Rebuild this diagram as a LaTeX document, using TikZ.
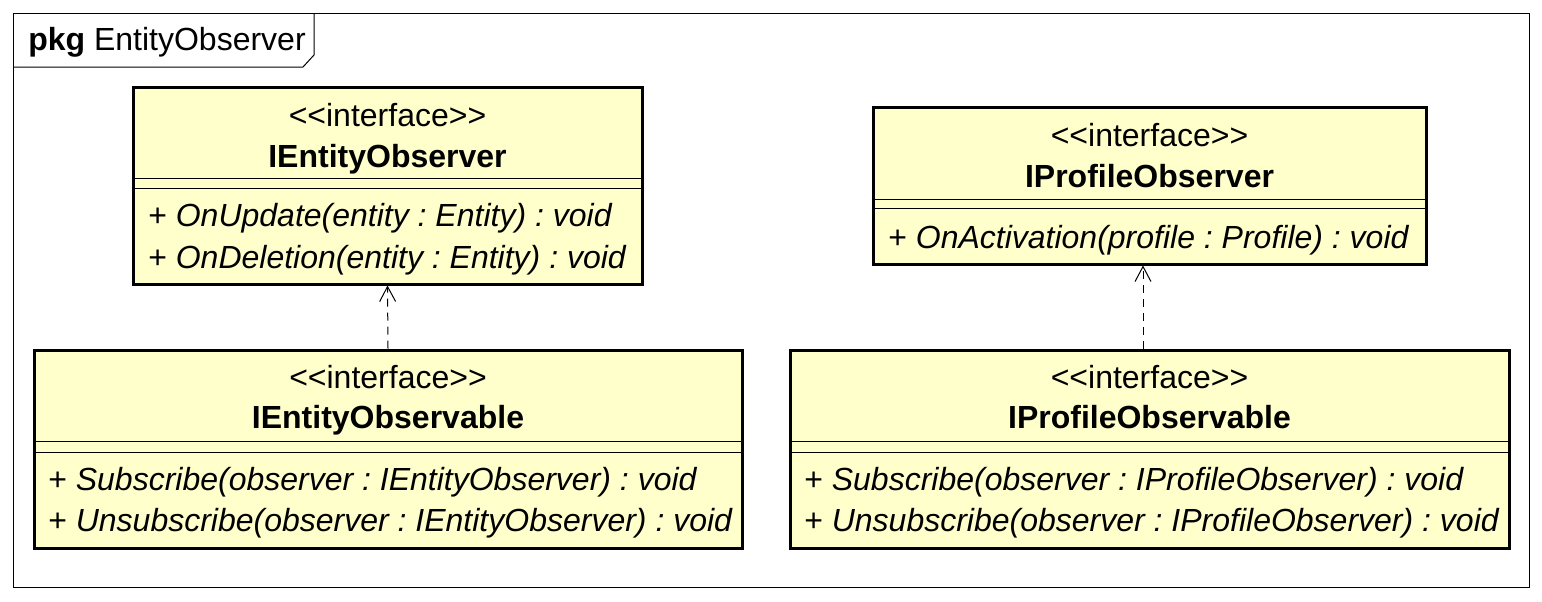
\documentclass[tikz,border=0pt]{standalone}
\usepackage{fontspec}
\setmainfont{Liberation Sans}[Ligatures=TeXOff]
\usetikzlibrary{arrows.meta}
\definecolor{UMLyellow}{RGB}{255,255,204}
\newcommand{\umlfont}{\fontsize{24}{29}\selectfont\frenchspacing}

\tikzset{
  ifacebox/.style={draw=black, line width=2.25pt, fill=UMLyellow, inner sep=0pt},
  stereo/.style={anchor=base, inner sep=0pt, font=\umlfont},
  ifacename/.style={anchor=base, inner sep=0pt, font=\umlfont\bfseries},
  opline/.style={anchor=base west, inner sep=0pt, font=\umlfont},
  compline/.style={line width=0.75pt},
  realize/.style={line width=0.75pt, dash pattern=on 6pt off 4.5pt,
    -{Straight Barb[length=11.25pt, width=12pt, line width=0.75pt]}}
}

\begin{document}
\begin{tikzpicture}[x=0.75pt, y=-0.75pt]
    \useasboundingbox (0,0) rectangle (1542,601);

    % Draw the package frame and its tab
    \draw[line width=0.75pt] (13,13) rectangle (1529,587);
    \draw[line width=0.75pt] (13,67) -- (303,67) -- (314,55) -- (314,13);
    \node[opline] (pkg) at (28,50) {\textbf{pkg} EntityObserver};

    % Draw the four interface boxes
    \node[ifacebox, minimum width=381.75pt, minimum height=147.75pt] (entobs) at (387.5,185.5) {};
    \node[ifacebox, minimum width=531pt, minimum height=148.5pt] (entobsable) at (388,449) {};
    \node[ifacebox, minimum width=414.75pt, minimum height=117.75pt] (profobs) at (1149.5,185.5) {};
    \node[ifacebox, minimum width=539.25pt, minimum height=148.5pt] (profobsable) at (1149.5,449) {};

    % Add the compartment lines
    \draw[compline] (entobs.west |- 0,178) -- (entobs.east |- 0,178);
    \draw[compline] (entobs.west |- 0,188) -- (entobs.east |- 0,188);
    \draw[compline] (entobsable.west |- 0,441) -- (entobsable.east |- 0,441);
    \draw[compline] (entobsable.west |- 0,452) -- (entobsable.east |- 0,452);
    \draw[compline] (profobs.west |- 0,199) -- (profobs.east |- 0,199);
    \draw[compline] (profobs.west |- 0,208) -- (profobs.east |- 0,208);
    \draw[compline] (profobsable.west |- 0,441) -- (profobsable.east |- 0,441);
    \draw[compline] (profobsable.west |- 0,452) -- (profobsable.east |- 0,452);

    % Add text for IEntityObserver
    \node[stereo] (entobs-st) at (387.5,126) {<<interface>>};
    \node[ifacename] (entobs-nm) at (387.5,167) {IEntityObserver};
    \node[opline] (entobs-op1) at (148,226) {+ \textit{OnUpdate(entity : Entity) : void}};
    \node[opline] (entobs-op2) at (148,268) {+ \textit{OnDeletion(entity : Entity) : void}};

    % Add text for IEntityObservable
    \node[stereo] (entobsable-st) at (388,388) {<<interface>>};
    \node[ifacename] (entobsable-nm) at (388,428) {IEntityObservable};
    \node[opline] (entobsable-op1) at (48,490) {+ \textit{Subscribe(observer : IEntityObserver) : void}};
    \node[opline] (entobsable-op2) at (48,531) {+ \textit{Unsubscribe(observer : IEntityObserver) : void}};

    % Add text for IProfileObserver
    \node[stereo] (profobs-st) at (1149.5,146) {<<interface>>};
    \node[ifacename] (profobs-nm) at (1149.5,187) {IProfileObserver};
    \node[opline] (profobs-op1) at (888,248) {+ \textit{OnActivation(profile : Profile) : void}};

    % Add text for IProfileObservable
    \node[stereo] (profobsable-st) at (1149.5,388) {<<interface>>};
    \node[ifacename] (profobsable-nm) at (1149.5,428) {IProfileObservable};
    \node[opline] (profobsable-op1) at (804,490) {+ \textit{Subscribe(observer : IProfileObserver) : void}};
    \node[opline] (profobsable-op2) at (804,531) {+ \textit{Unsubscribe(observer : IProfileObserver) : void}};

    % Draw the dependency arrows
    \draw[realize] (entobsable.north) -- (entobs.south);
    \draw[realize] ([xshift=-4.875pt]profobsable.north) -- ([xshift=-4.875pt]profobs.south);
\end{tikzpicture}
\end{document}
